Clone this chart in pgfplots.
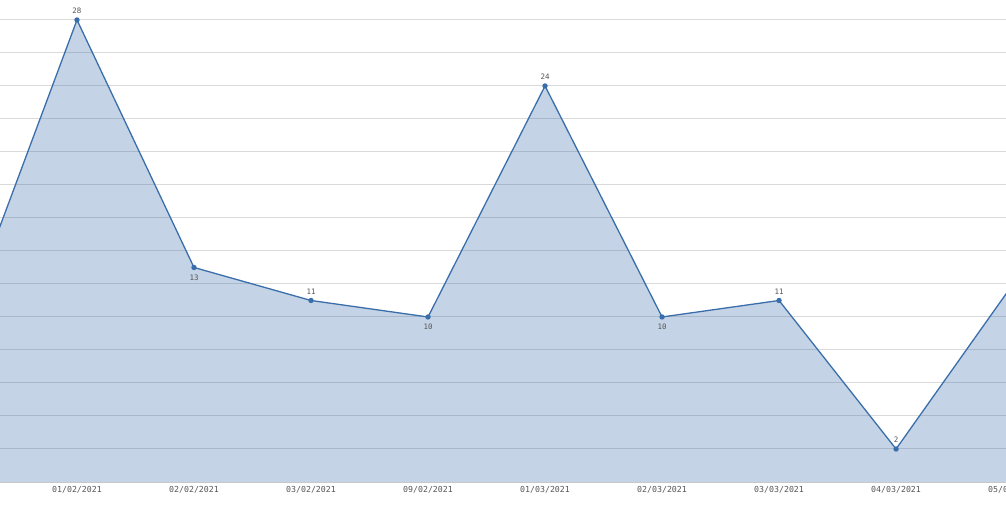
\documentclass[border=0pt]{standalone}
\usepackage{fontspec}
\setmonofont{DejaVu Sans Mono}
\usepackage{pgfplots}
\pgfplotsset{compat=1.18}
\definecolor{lineblue}{RGB}{58,110,170}
\definecolor{gridc}{RGB}{218,218,218}
\definecolor{axisc}{RGB}{200,200,200}
\definecolor{txt}{RGB}{85,85,85}
\pgfplotstableread{
x y pos op
0 9 1 0
1 28 1 1
2 13 -1 1
3 11 1 1
4 10 -1 1
5 24 1 1
6 10 -1 1
7 11 1 1
8 2 1 1
9 12 1 0
}\datatable
\begin{document}
\begin{tikzpicture}
\begin{axis}[
  scale only axis, width=1071.5bp, height=482bp,
  xmin=0.342, xmax=9.5, ymin=0, ymax=29.21,
  xtick={1,...,9},
  xticklabels={01/02/2021,02/02/2021,03/02/2021,09/02/2021,01/03/2021,02/03/2021,03/03/2021,04/03/2021,05/03/2021},
  ytick={2,4,...,28}, yticklabels={},
  ymajorgrids, major grid style={gridc, line width=1bp},
  separate axis lines,
  axis x line*=bottom, axis y line*=left,
  x axis line style={axisc, line width=1bp, -},
  y axis line style={draw=none},
  major tick length=0pt,
  xticklabel style={font=\ttfamily\fontsize{8.3}{10}\selectfont, text=txt, yshift=-1bp},
  /pgf/number format/assume math mode=true,
]
\addplot[draw=none, fill=lineblue, fill opacity=0.3] table[x=x,y=y] {\datatable} \closedcycle;
\addplot[lineblue, line width=1.3bp, mark=*, mark size=2bp,
  visualization depends on={\thisrow{pos} \as \pos},
  visualization depends on={\thisrow{op} \as \op},
  nodes near coords={\ifdim\op pt>0.5pt \pgfmathprintnumber{\pgfplotspointmeta}\fi},
  every node near coord/.style={font=\ttfamily\fontsize{7.5}{9}\selectfont, text=txt, anchor=center, yshift=\pos*9.5bp - 0.5bp},
] table[x=x,y=y] {\datatable};
\coordinate (LL) at (rel axis cs:0,0);
\coordinate (UL) at (rel axis cs:0,1);
\end{axis}
\pgfresetboundingbox
\path[use as bounding box] ([yshift=-49bp]LL) rectangle ([xshift=1006bp]UL);
\end{tikzpicture}
\end{document}
